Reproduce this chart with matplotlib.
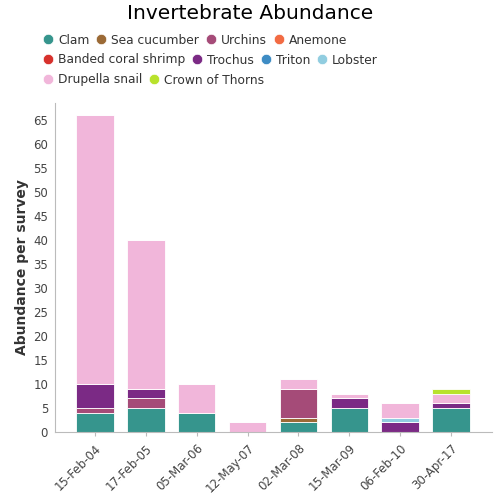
import numpy as np
import matplotlib
matplotlib.use('Agg')
from matplotlib import pyplot as plt
from matplotlib.lines import Line2D

dates = ['15-Feb-04', '17-Feb-05', '05-Mar-06', '12-May-07',
         '02-Mar-08', '15-Mar-09', '06-Feb-10', '30-Apr-17']

species = ['Clam', 'Sea cucumber', 'Urchins', 'Anemone',
           'Banded coral shrimp', 'Trochus', 'Triton', 'Lobster',
           'Drupella snail', 'Crown of Thorns']

colors = ['#36958d', '#9b6a36', '#a54b78', '#f26b43', '#d7312c',
          '#7b2a85', '#3e8cc4', '#91cde0', '#f1b6da', '#b8e22c']

clam = [4, 5, 4, 0, 2, 5, 0, 5]
sea_cucumber = [0, 0, 0, 0, 1, 0, 0, 0]
urchins = [1, 2, 0, 0, 6, 0, 0, 0]
anemone = [0, 0, 0, 0, 0, 0, 0, 0]
banded_shrimp = [0, 0, 0, 0, 0, 0, 0, 0]
trochus = [5, 2, 0, 0, 0, 2, 2, 1]
triton = [0, 0, 0, 0, 0, 0, 0, 0]
lobster = [0, 0, 0, 0, 0, 0, 1, 0]
drupella = [56, 31, 6, 2, 2, 1, 3, 2]
crown_of_thorns = [0, 0, 0, 0, 0, 0, 0, 1]

values = [clam, sea_cucumber, urchins, anemone, banded_shrimp,
          trochus, triton, lobster, drupella, crown_of_thorns]

fig = plt.figure(figsize=(5, 5), dpi=100)
ax = fig.add_axes([0.11, 0.136, 0.874, 0.658])

x = np.arange(len(dates))
bottom = np.zeros(len(dates))
for name, vals, col in zip(species, values, colors):
    vals = np.array(vals, dtype=float)
    ax.bar(x, vals, 0.74, bottom=bottom, color=col, edgecolor='white',
           linewidth=0.6, label=name)
    bottom += vals

ax.set_xlim(-0.78, 7.8)
ax.set_ylim(0, 68.5)
ax.set_yticks(range(0, 70, 5))
ax.set_xticks(x)
ax.set_xticklabels(dates, rotation=45, ha='right', rotation_mode='anchor')
ax.tick_params(axis='both', colors='#444444', labelsize=8.5, length=0, pad=5)
ax.tick_params(axis='x', length=3, color='#bbbbbb', pad=4)
for s in ['top', 'right']:
    ax.spines[s].set_visible(False)
for s in ['left', 'bottom']:
    ax.spines[s].set_color('#bbbbbb')
ax.set_ylabel('Abundance per survey', fontsize=10, color='#333333',
              fontweight='bold', labelpad=3)

fig.text(0.5, 0.973, 'Invertebrate Abundance', ha='center', va='center',
         fontsize=14.5, color='black')

# legend rows (4, 4, 2 items)
rows = [species[0:4], species[4:8], species[8:10]]
row_y = [0.92, 0.88, 0.84]
idx = 0
for names, yy in zip(rows, row_y):
    handles = []
    for n in names:
        handles.append(Line2D([], [], marker='o', linestyle='', markersize=7.5,
                              markerfacecolor=colors[idx], markeredgecolor='white',
                              markeredgewidth=0.5))
        idx += 1
    leg = fig.legend(handles, names, loc='center left', bbox_to_anchor=(0.084, yy),
                     ncol=len(names), frameon=False, fontsize=8.8,
                     handletextpad=0.33, columnspacing=0.45, handlelength=1.0,
                     borderpad=0, borderaxespad=0)
    for t in leg.get_texts():
        t.set_color('#333333')

fig.savefig('out.png', dpi=100)
